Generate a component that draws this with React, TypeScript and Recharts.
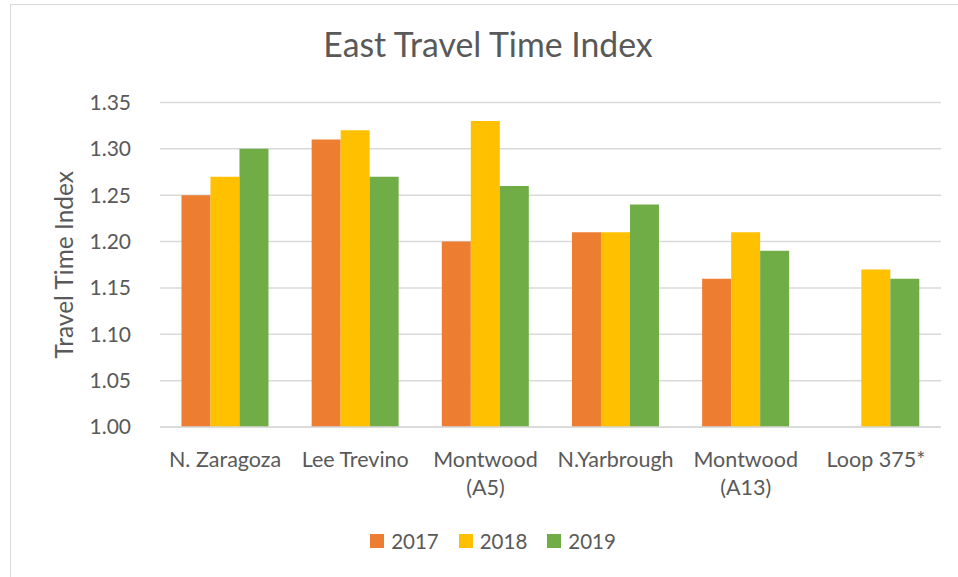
import React from "react";
import { BarChart, Bar, XAxis, YAxis, CartesianGrid, Legend } from "recharts";

const categories = ["N. Zaragoza", "Lee Trevino", "Montwood (A5)", "N.Yarbrough", "Montwood (A13)", "Loop 375*"];
const values2017: (number | null)[] = [1.25, 1.31, 1.2, 1.21, 1.16, null];
const values2018: (number | null)[] = [1.27, 1.32, 1.33, 1.21, 1.21, 1.17];
const values2019: (number | null)[] = [1.3, 1.27, 1.26, 1.24, 1.19, 1.16];
const yTicks = [1.0, 1.05, 1.1, 1.15, 1.2, 1.25, 1.3, 1.35];
const seriesNames = ["2017", "2018", "2019"];
const seriesColors = ["#ED7D31", "#FFC000", "#70AD47"];

const data = categories.map((c, i) => ({
  name: c,
  "2017": values2017[i],
  "2018": values2018[i],
  "2019": values2019[i],
}));

const FONT = "Lato, 'Open Sans', sans-serif";
const TEXT = "#595959";

const splitLabel = (s: string) => {
  const idx = s.indexOf(" (");
  return idx >= 0 ? [s.slice(0, idx), s.slice(idx + 1)] : [s];
};

const XTick = (props: any) => {
  const { x, y, payload } = props;
  const lines = splitLabel(String(payload.value));
  return (
    <text x={x} y={y} textAnchor="middle" fill={TEXT} fontSize={21.5} fontFamily={FONT}>
      {lines.map((l, i) => (
        <tspan key={i} x={x} dy={i === 0 ? 39.5 : 28.5}>
          {l}
        </tspan>
      ))}
    </text>
  );
};

const YLabel = (props: any) => {
  const vb = props.viewBox || {};
  const cx = (vb.x || 0) + 63;
  const cy = (vb.y || 0) + (vb.height || 0) / 2;
  return (
    <text
      x={cx}
      y={cy}
      transform={`rotate(-90, ${cx}, ${cy})`}
      textAnchor="middle"
      dominantBaseline="central"
      fill={TEXT}
      fontSize={24.5}
      fontFamily={FONT}
    >
      Travel Time Index
    </text>
  );
};

const LegendContent = () => (
  <div
    style={{
      height: 30,
      display: "flex",
      justifyContent: "center",
      alignItems: "center",
      paddingLeft: 28,
      fontFamily: FONT,
      fontSize: 20.5,
      color: TEXT,
    }}
  >
    {seriesNames.map((n, i) => (
      <div key={n} style={{ display: "flex", alignItems: "center", marginLeft: i === 0 ? 0 : 20 }}>
        <div style={{ width: 14, height: 14, background: seriesColors[i], marginRight: 7 }} />
        <span>{n}</span>
      </div>
    ))}
  </div>
);

export default function App() {
  return (
    <div
      style={{
        position: "absolute",
        left: 0,
        top: 0,
        width: 958,
        height: 577,
        overflow: "hidden",
        background: "#fff",
      }}
    >
      <div
        style={{
          position: "absolute",
          left: 10,
          top: 4,
          width: 980,
          height: 600,
          border: "1.5px solid #D9D9D9",
          boxSizing: "border-box",
        }}
      />
      <div
        style={{
          position: "absolute",
          left: 0,
          top: 28,
          width: 976,
          textAlign: "center",
          fontFamily: FONT,
          fontSize: 33.8,
          lineHeight: 1,
          color: TEXT,
          whiteSpace: "nowrap",
        }}
      >
        East Travel Time Index
      </div>
      <div style={{ position: "absolute", left: 0, top: 0 }}>
        <BarChart
          width={958}
          height={577}
          data={data}
          margin={{ top: 102.5, right: 17, left: 0, bottom: 21 }}
          barCategoryGap="16.5%"
          barGap={0}
        >
          <CartesianGrid vertical={false} stroke="#D9D9D9" strokeWidth={1.5} />
          <XAxis
            dataKey="name"
            interval={0}
            height={99}
            tickLine={false}
            tickSize={0}
            tickMargin={0}
            axisLine={{ stroke: "#D9D9D9", strokeWidth: 1.5 }}
            tick={<XTick />}
          />
          <YAxis
            width={160}
            domain={[1, 1.35]}
            ticks={yTicks}
            tickFormatter={(v: number) => v.toFixed(2)}
            axisLine={false}
            tickLine={false}
            tickSize={0}
            tickMargin={29}
            tick={{ fill: TEXT, fontSize: 21, fontFamily: FONT }}
            label={<YLabel />}
          />
          <Legend verticalAlign="bottom" content={<LegendContent />} wrapperStyle={{ left: 0, width: 958 }} />
          {seriesNames.map((n, i) => (
            <Bar key={n} dataKey={n} fill={seriesColors[i]} isAnimationActive={false} />
          ))}
        </BarChart>
      </div>
    </div>
  );
}
